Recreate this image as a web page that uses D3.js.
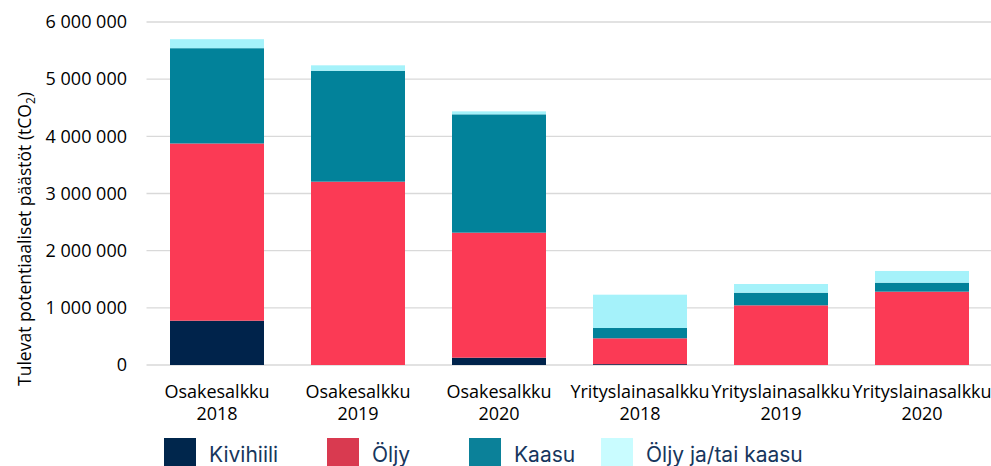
<!DOCTYPE html>
<html>
<head>
<meta charset="utf-8">
<script src="https://cdn.jsdelivr.net/npm/d3@7"></script>
<style>
  body { margin: 0; background: #fff; overflow: hidden; }
  svg { display: block; }
  .tick-lbl { font-family: "Open Sans", sans-serif; font-size: 18px; fill: #000; }
  .legend-lbl { font-family: Inter, sans-serif; font-size: 21px; fill: #17365d; }
</style>
</head>
<body>
<div id="chart"></div>
<script>
// data (tCO2)
var portfolios = ["Osakesalkku", "Osakesalkku", "Osakesalkku", "Yrityslainasalkku", "Yrityslainasalkku", "Yrityslainasalkku"]
var years = ["2018", "2019", "2020", "2018", "2019", "2020"]
var seriesNames = ["Kivihiili", "Öljy", "Kaasu", "Öljy ja/tai kaasu"]
var kivihiili = [775000, 0, 128000, 15000, 0, 0]
var oljy = [3100000, 3207000, 2187000, 452000, 1044000, 1283000]
var kaasu = [1667000, 1940000, 2070000, 180000, 221000, 157000]
var oljyTaiKaasu = [157000, 95000, 52000, 583000, 152000, 205000]
var yTicks = [0, 1000000, 2000000, 3000000, 4000000, 5000000, 6000000]

var barColors = ["#00234b", "#fb3a55", "#02829a", "#a5f2fa"]
var legendColors = ["#00264c", "#d93a50", "#0b8199", "#c9fcff"]

var width = 991, height = 466
var margin = {top: 22, right: 0, bottom: 101, left: 146.5}

// rows for d3.stack
var rows = years.map(function(y, i) {
  return {key: i, "Kivihiili": kivihiili[i], "Öljy": oljy[i], "Kaasu": kaasu[i], "Öljy ja/tai kaasu": oljyTaiKaasu[i]}
})

var svg = d3.select("#chart").append("svg")
  .attr("width", width).attr("height", height)

var x = d3.scaleBand()
  .domain(d3.range(years.length))
  .range([margin.left, margin.left + 141 * 6])
  .paddingInner(1/3)
  .paddingOuter(1/6)

var y = d3.scaleLinear()
  .domain([0, 6000000])
  .range([height - margin.bottom, margin.top])

var fmt = function(d) { return d3.format(",")(d).replace(/,/g, " ") }

// gridlines
svg.append("g")
  .selectAll("line")
  .data(yTicks).enter()
  .append("line")
  .attr("x1", margin.left).attr("x2", width)
  .attr("y1", function(d) { return y(d) }).attr("y2", function(d) { return y(d) })
  .attr("stroke", "#d9d9d9")
  .attr("stroke-width", 1.3)

// y labels
svg.append("g")
  .selectAll("text")
  .data(yTicks).enter()
  .append("text")
  .attr("class", "tick-lbl")
  .attr("x", 127)
  .attr("y", function(d) { return y(d) })
  .attr("dy", "0.35em")
  .attr("text-anchor", "end")
  .text(fmt)

// y title
var yt = svg.append("text")
  .attr("class", "tick-lbl")
  .attr("transform", "translate(31," + 239 + ") rotate(-90)")
  .attr("text-anchor", "middle")
  .style("font-size", "17.5px")
yt.append("tspan").text("Tulevat potentiaaliset päästöt  (tCO")
yt.append("tspan").attr("dy", 4).style("font-size", "12px").text("2")
yt.append("tspan").attr("dy", -4).text(")")

// stacked bars
var stack = d3.stack().keys(seriesNames)
var layers = stack(rows)

svg.append("g")
  .selectAll("g")
  .data(layers).enter()
  .append("g")
  .attr("fill", function(d, i) { return barColors[i] })
  .selectAll("rect")
  .data(function(d) { return d }).enter()
  .append("rect")
  .attr("x", function(d) { return x(d.data.key) })
  .attr("width", x.bandwidth())
  .attr("y", function(d) { return y(d[1]) })
  .attr("height", function(d) { return y(d[0]) - y(d[1]) })

// x labels (two lines)
var xl = svg.append("g")
  .selectAll("text")
  .data(years).enter()
  .append("text")
  .attr("class", "tick-lbl")
  .attr("text-anchor", "middle")
  .attr("x", function(d, i) { return x(i) + x.bandwidth() / 2 })
  .attr("y", 398)
xl.append("tspan").text(function(d, i) { return portfolios[i] })
xl.append("tspan")
  .attr("x", function(d, i) { return x(i) + x.bandwidth() / 2 })
  .attr("dy", 22)
  .text(function(d) { return d })

// legend
var legendX = [164, 327, 469, 601]
var leg = svg.append("g")
  .selectAll("g")
  .data(seriesNames).enter()
  .append("g")
  .attr("transform", function(d, i) { return "translate(" + legendX[i] + ",438)" })
leg.append("rect")
  .attr("width", 32).attr("height", 32)
  .attr("fill", function(d, i) { return legendColors[i] })
leg.append("text")
  .attr("class", "legend-lbl")
  .attr("x", 45)
  .attr("y", 24)
  .text(function(d) { return d })
</script>
</body>
</html>
